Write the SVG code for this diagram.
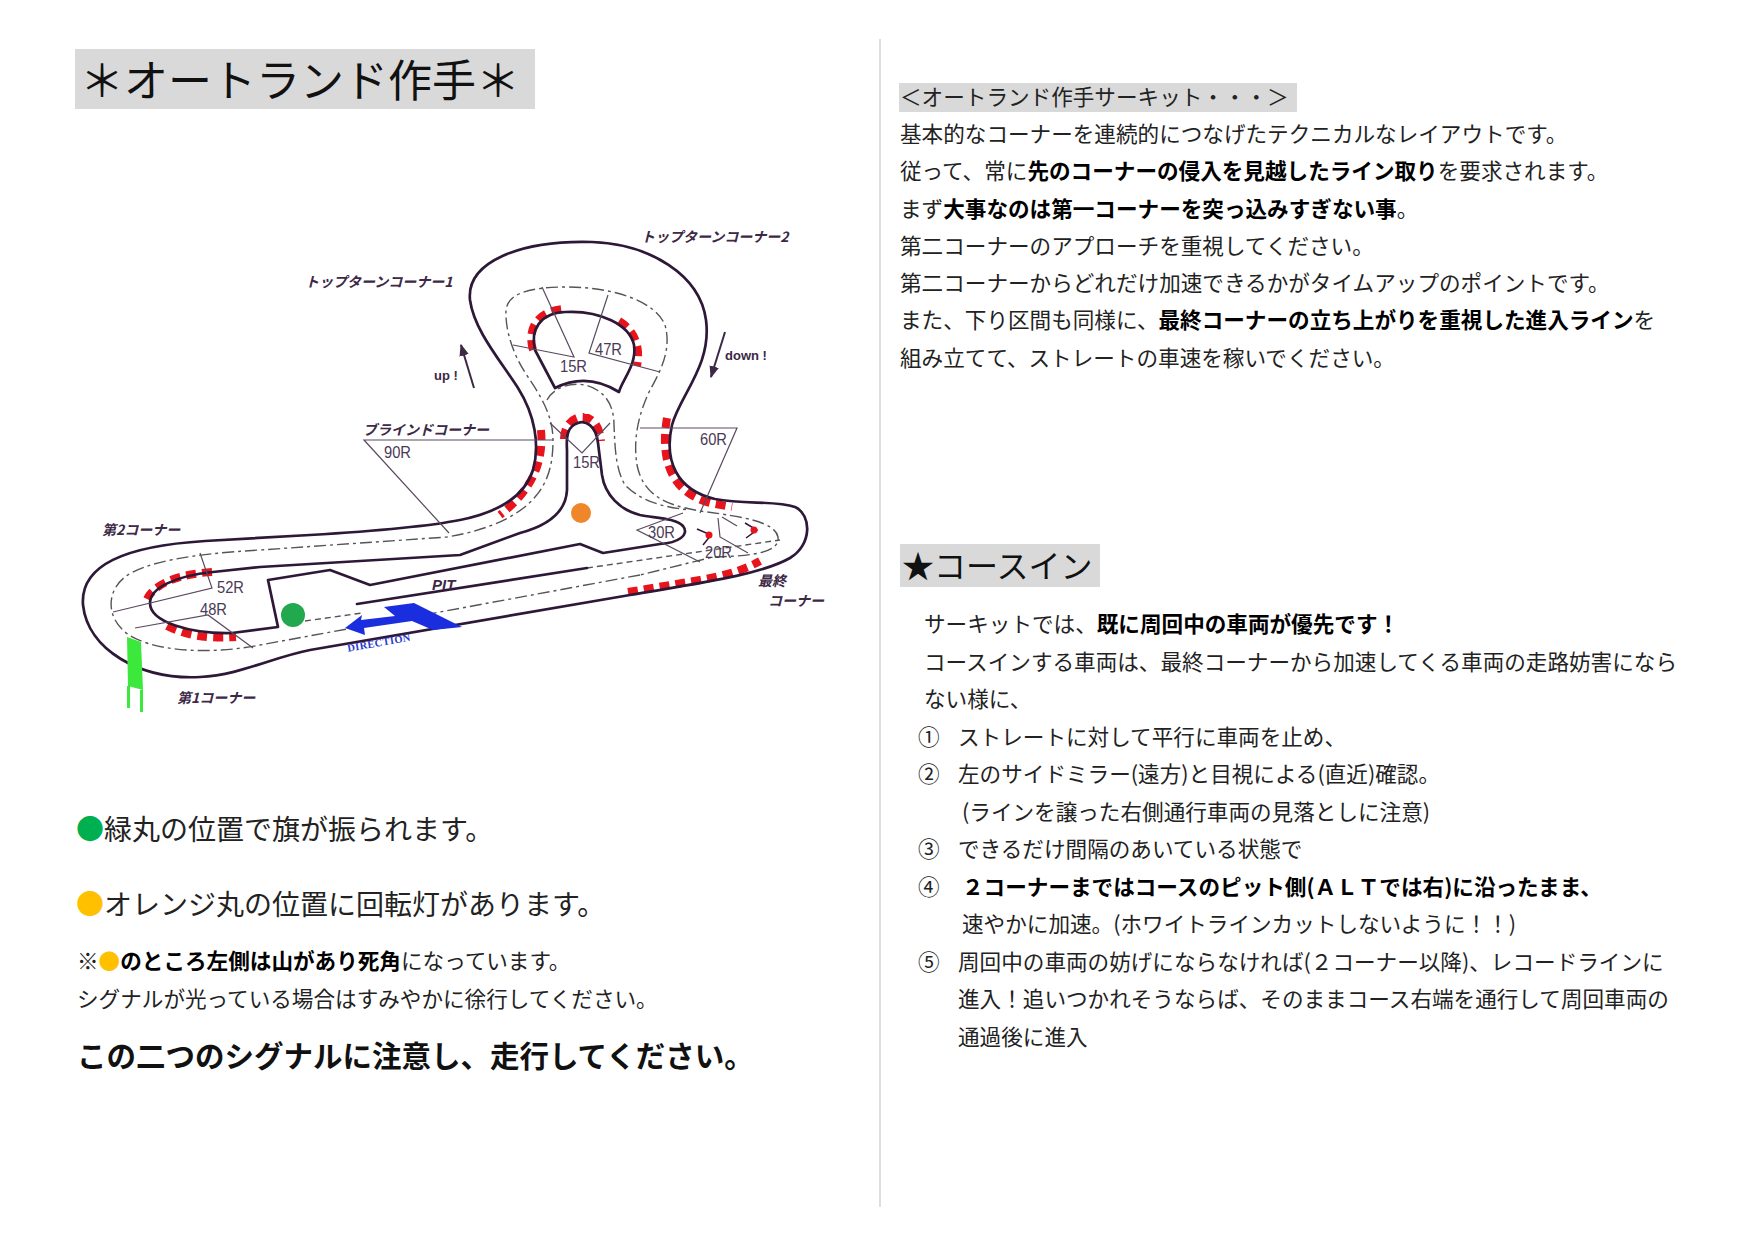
<svg xmlns="http://www.w3.org/2000/svg" width="1754" height="1240" viewBox="0 0 1754 1240">
<defs>
<marker id="ah" viewBox="0 0 10 10" refX="9" refY="5" markerWidth="6" markerHeight="6" orient="auto"><path d="M0,1 L10,5 L0,9 z" fill="#3d2845"/></marker>
<style>
.jp{font-family:"Noto Sans CJK JP","Noto Sans",sans-serif;}
.t{font-family:"Noto Sans CJK JP","Noto Sans",sans-serif;font-size:21.6px;fill:#222;}
.b{font-weight:700;fill:#000;}
.lbl{font-family:"Noto Sans CJK JP",sans-serif;font-style:italic;font-weight:700;fill:#3d2845;font-size:14px;}
.r{font-family:"Liberation Sans",Arial,sans-serif;font-size:16px;fill:#4a3a55;}
.en{font-family:"Liberation Sans",Arial,sans-serif;font-weight:700;fill:#3d2845;}
.trk{fill:none;stroke:#2e1838;stroke-width:2.7;stroke-linejoin:round;stroke-linecap:round;}
.dd{fill:none;stroke:#555;stroke-width:1.4;stroke-dasharray:12 4 3 4;}
.ds{fill:none;stroke:#555;stroke-width:1.4;stroke-dasharray:6 4;}
.rad{fill:none;stroke:#5a4a60;stroke-width:1.2;}
.kerbw{fill:none;stroke:#fff;stroke-width:9;}
.kerb{fill:none;stroke:#e8141c;stroke-width:8;stroke-dasharray:10 6;}
.box{fill:#d9d9d9;}
</style>
</defs>
<rect width="1754" height="1240" fill="#fff"/>
<line x1="880" y1="39" x2="880" y2="1207" stroke="#c8c8c8" stroke-width="1.2"/>

<g id="title">
<rect class="box" x="75" y="49" width="460" height="60"/>
<text class="jp" x="80" y="97" font-size="44" fill="#111">＊オートランド作手＊</text>
</g>

<g id="intro">
<rect class="box" x="899" y="83" width="398" height="29"/>
<text class="t" x="900" y="105">＜オートランド作手サーキット・・・＞</text>
<text class="t" x="900" y="142">基本的なコーナーを連続的につなげたテクニカルなレイアウトです。</text>
<text class="t" x="900" y="179">従って、常に<tspan class="b">先のコーナーの侵入を見越したライン取り</tspan>を要求されます。</text>
<text class="t" x="900" y="217">まず<tspan class="b">大事なのは第一コーナーを突っ込みすぎない事</tspan>。</text>
<text class="t" x="900" y="254">第二コーナーのアプローチを重視してください。</text>
<text class="t" x="900" y="291">第二コーナーからどれだけ加速できるかがタイムアップのポイントです。</text>
<text class="t" x="900" y="328">また、下り区間も同様に、<tspan class="b">最終コーナーの立ち上がりを重視した進入ライン</tspan>を</text>
<text class="t" x="900" y="366">組み立てて、ストレートの車速を稼いでください。</text>
</g>

<g id="coursein">
<rect class="box" x="900" y="544" width="200" height="43"/>
<text class="jp" x="902" y="578" font-size="32" fill="#111">★コースイン</text>
<text class="t" x="924" y="632">サーキットでは、<tspan class="b">既に周回中の車両が優先です！</tspan></text>
<text class="t" x="924" y="670">コースインする車両は、最終コーナーから加速してくる車両の走路妨害になら</text>
<text class="t" x="924" y="707">ない様に、</text>
<text class="t" x="918" y="745" font-size="20" fill="#555">①</text>
<text class="t" x="958" y="745">ストレートに対して平行に車両を止め、</text>
<text class="t" x="918" y="782" font-size="20" fill="#555">②</text>
<text class="t" x="958" y="782">左のサイドミラー(遠方)と目視による(直近)確認。</text>
<text class="t" x="962" y="820">(ラインを譲った右側通行車両の見落としに注意)</text>
<text class="t" x="918" y="857" font-size="20" fill="#555">③</text>
<text class="t" x="958" y="857">できるだけ間隔のあいている状態で</text>
<text class="t" x="918" y="895" font-size="20" fill="#555">④</text>
<text class="t b" x="962" y="895">２コーナーまではコースのピット側(ＡＬＴでは右)に沿ったまま、</text>
<text class="t" x="962" y="932">速やかに加速。(ホワイトラインカットしないように！！)</text>
<text class="t" x="918" y="970" font-size="20" fill="#555">⑤</text>
<text class="t" x="958" y="970">周回中の車両の妨げにならなければ(２コーナー以降)、レコードラインに</text>
<text class="t" x="958" y="1007">進入！追いつかれそうならば、そのままコース右端を通行して周回車両の</text>
<text class="t" x="958" y="1045">通過後に進入</text>
</g>

<g id="signals">
<text class="jp" x="76" y="840" font-size="28" fill="#222"><tspan fill="#00b050">●</tspan>緑丸の位置で旗が振られます。</text>
<text class="jp" x="76" y="915" font-size="28" fill="#222"><tspan fill="#ffc000">●</tspan>オレンジ丸の位置に回転灯があります。</text>
<text class="t" x="77" y="969">※<tspan fill="#ffc000">●</tspan><tspan class="b">のところ左側は山があり死角</tspan>になっています。</text>
<text class="t" x="77" y="1007" fill="#333">シグナルが光っている場合はすみやかに徐行してください。</text>
<text class="jp" x="77" y="1067" font-size="29.5" font-weight="700" fill="#111">この二つのシグナルに注意し、走行してください。</text>
</g>

<g id="map">
<g id="kerbs">
<path class="kerb" d="M533,350 C527,330 536,312 562,309"/>
<path class="kerb" d="M619,321 C634,330 641,346 637,366"/>
<path class="kerb" d="M541,430 C544,462 532,490 500,515"/>
<path class="kerb" d="M667,418 C660,458 670,492 710,503 L732,507"/>
<path class="kerb" d="M564,439 C564,422 577,416 584,417 C594,418 600,428 601,441"/>
<path class="kerb" d="M628,592 L700,580 C728,575 746,569 760,561"/>
<path class="kerb" d="M212,572 C180,574 155,583 147,599"/>
<path class="kerb" d="M167,626 C185,635 205,639 236,637"/>
</g>
<g id="racing-lines">
<path class="dd" d="M640,575 L440,612 L260,645 C210,655 150,652 125,632 C105,615 108,590 125,577 C145,562 190,554 260,550 L447,537 C490,530 520,515 535,497 C550,480 553,460 553,440 C553,415 540,395 528,377 C513,355 505,330 506,310 C508,293 530,287 567,287 C610,287 655,300 665,325 C672,350 660,372 650,390 C638,415 633,440 637,465 C643,495 665,505 700,511 C745,517 775,522 778,537 C780,552 755,556 713,557 Z"/>
<path class="dd" d="M547,400 C553,388 570,382 585,385 C605,390 614,405 614,425 C615,450 616,470 625,485 C640,500 660,507 690,510"/>
<path class="ds" d="M587,568 L780,540"/>
<path class="ds" d="M305,621 L362,613"/>
</g>
<g id="track">
<path id="outer" class="trk" d="M310,535 C360,532 420,528 460,520 C500,512 525,495 533,470 C540,445 535,415 518,388 C500,360 474,330 470,300 C466,262 520,240 592,242 C650,244 700,275 706,320 C712,365 680,395 672,425 C664,460 676,490 715,499 C745,505 775,500 795,507 C812,515 812,545 790,558 C760,575 700,583 630,595 L310,650 C270,658 240,675 200,677 C140,680 88,650 83,605 C80,565 125,546 205,541 Z"/>
<path id="top-island" class="trk" d="M535,350 C530,330 540,313 565,312 C600,310 630,325 634,345 C637,365 622,380 619,392 Q587,372 555,388 Z"/>
<path id="infield" class="trk" d="M268,580 L330,570 L370,585 L580,544 L603,553 L660,544 C678,543 690,535 683,526 C676,518 655,518 640,515 C620,510 605,495 602,475 L598,443 C596,425 585,420 578,423 C568,426 566,435 567,450 L567,490 C566,510 550,525 520,533 L460,555 L260,567 L213,572 C175,576 150,588 150,603 C150,622 190,634 232,633 L278,627 Z"/>
<path class="trk" d="M357,604 L587,568"/>
</g>
<g id="radius-lines">
<path class="rad" d="M542,287 L574,357 L513,345"/>
<path class="rad" d="M608,295 L589,353 L660,372"/>
<path class="rad" d="M553,440 L364,440 L449,533"/>
<path class="rad" d="M550,423 L582,453 L610,423"/>
<path class="rad" d="M640,428 L737,428 L700,513"/>
<path class="rad" d="M683,513 L637,530 L700,562"/>
<path class="rad" d="M718,518 L720,537 L748,553 M722,517 L737,526"/>
<path class="rad" d="M200,553 L212,588 L113,612"/>
<path class="rad" d="M135,628 L208,615 L253,648"/>
<path d="M697,529 L711,535 L703,545 M745,523 L757,530 L746,538" fill="none" stroke="#2e1838" stroke-width="1.5"/>
<circle cx="709" cy="535" r="3.5" fill="#e8141c"/>
<circle cx="754" cy="530" r="3.5" fill="#e8141c"/>
</g>
<g id="radius-labels">
<text class="r" x="560" y="372" textLength="27" lengthAdjust="spacingAndGlyphs">15R</text>
<text class="r" x="595" y="355" textLength="27" lengthAdjust="spacingAndGlyphs">47R</text>
<text class="r" x="384" y="458" textLength="27" lengthAdjust="spacingAndGlyphs">90R</text>
<text class="r" x="573" y="468" textLength="27" lengthAdjust="spacingAndGlyphs">15R</text>
<text class="r" x="700" y="445" textLength="27" lengthAdjust="spacingAndGlyphs">60R</text>
<text class="r" x="648" y="538" textLength="27" lengthAdjust="spacingAndGlyphs">30R</text>
<text class="r" x="705" y="558" textLength="27" lengthAdjust="spacingAndGlyphs">20R</text>
<text class="r" x="217" y="593" textLength="27" lengthAdjust="spacingAndGlyphs">52R</text>
<text class="r" x="200" y="615" textLength="27" lengthAdjust="spacingAndGlyphs">48R</text>
</g>
<g id="corner-labels">
<text class="lbl" x="641" y="242">トップターンコーナー2</text>
<text class="lbl" x="305" y="287">トップターンコーナー1</text>
<text class="lbl" x="363" y="435">ブラインドコーナー</text>
<text class="lbl" x="102" y="535" font-size="16">第2コーナー</text>
<text class="lbl" x="177" y="703" font-size="16.5">第1コーナー</text>
<text class="lbl" x="758" y="586" font-size="13.5">最終</text>
<text class="lbl" x="768" y="606" font-size="13.5">コーナー</text>
<text class="en" x="432" y="590" font-size="15" font-style="italic">PIT</text>
<text class="en" x="434" y="380" font-size="13">up !</text>
<text class="en" x="725" y="360" font-size="13">down !</text>
</g>
<g id="direction">
<polygon points="345,628 362,615 361,620 395,616 384,607 414,603 462,627 433,630 412,621 364,628 365,635" fill="#1a2ee0"/>
<text x="346" y="646" transform="rotate(-10 380 638)" font-family="Liberation Serif,serif" font-weight="700" font-size="10.5" fill="#2a3ad0" letter-spacing="0.4">DIRECTION</text>
</g>
<g id="markers">
<circle id="green-dot" cx="293" cy="615" r="12" fill="#22a84f"/>
<circle id="orange-dot" cx="581" cy="513" r="10" fill="#f0862a"/>
<g id="flag">
<polygon points="127,637 141,642 143,690 128,686" fill="#3de83d"/>
<line x1="128.5" y1="686" x2="128.5" y2="708" stroke="#3de83d" stroke-width="3"/>
<line x1="141.5" y1="690" x2="141.5" y2="712" stroke="#3de83d" stroke-width="3"/>
</g>
</g>
</g>

<g id="connectors">
<line x1="474" y1="388" x2="461" y2="345" stroke="#3d2845" stroke-width="2" marker-end="url(#ah)"/>
<line x1="725" y1="332" x2="711" y2="377" stroke="#3d2845" stroke-width="2" marker-end="url(#ah)"/>
</g>
</svg>
